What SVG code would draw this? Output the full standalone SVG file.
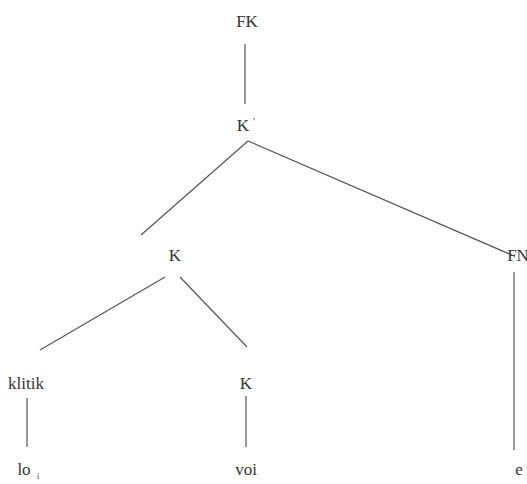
<svg xmlns="http://www.w3.org/2000/svg" width="527" height="484" viewBox="0 0 527 484">
<style>
text{font-family:"Liberation Serif","Times New Roman",serif;font-size:17px;fill:#333;text-anchor:middle}
line{stroke:#555;stroke-width:1.2}
</style>
<rect width="527" height="484" fill="#fff"/>
<g id="connectors">
<line x1="245" y1="44" x2="245" y2="104"/>
<line x1="248" y1="141" x2="141" y2="235"/>
<line x1="248" y1="141" x2="514" y2="256"/>
<line x1="165" y1="277" x2="40" y2="350"/>
<line x1="180" y1="277" x2="247" y2="347"/>
<line x1="27" y1="398" x2="27" y2="447"/>
<line x1="246" y1="396" x2="246" y2="447"/>
<line x1="514" y1="272" x2="514" y2="450"/>
</g>
<g id="n-fk"><text x="247" y="27">FK</text></g>
<g id="n-kbar"><text x="243" y="131">K</text><text x="254" y="125" style="font-size:11px">'</text></g>
<g id="n-k1"><text x="175" y="261">K</text></g>
<g id="n-fn"><text x="518" y="261">FN</text></g>
<g id="n-klitik"><text x="26" y="389">klitik</text></g>
<g id="n-k2"><text x="246" y="389">K</text></g>
<g id="n-lo"><text x="24" y="475">lo</text><text x="38" y="479" style="font-size:8px">i</text></g>
<g id="n-voi"><text x="246" y="475">voi</text></g>
<g id="n-e"><text x="519" y="475">e</text></g>
</svg>
